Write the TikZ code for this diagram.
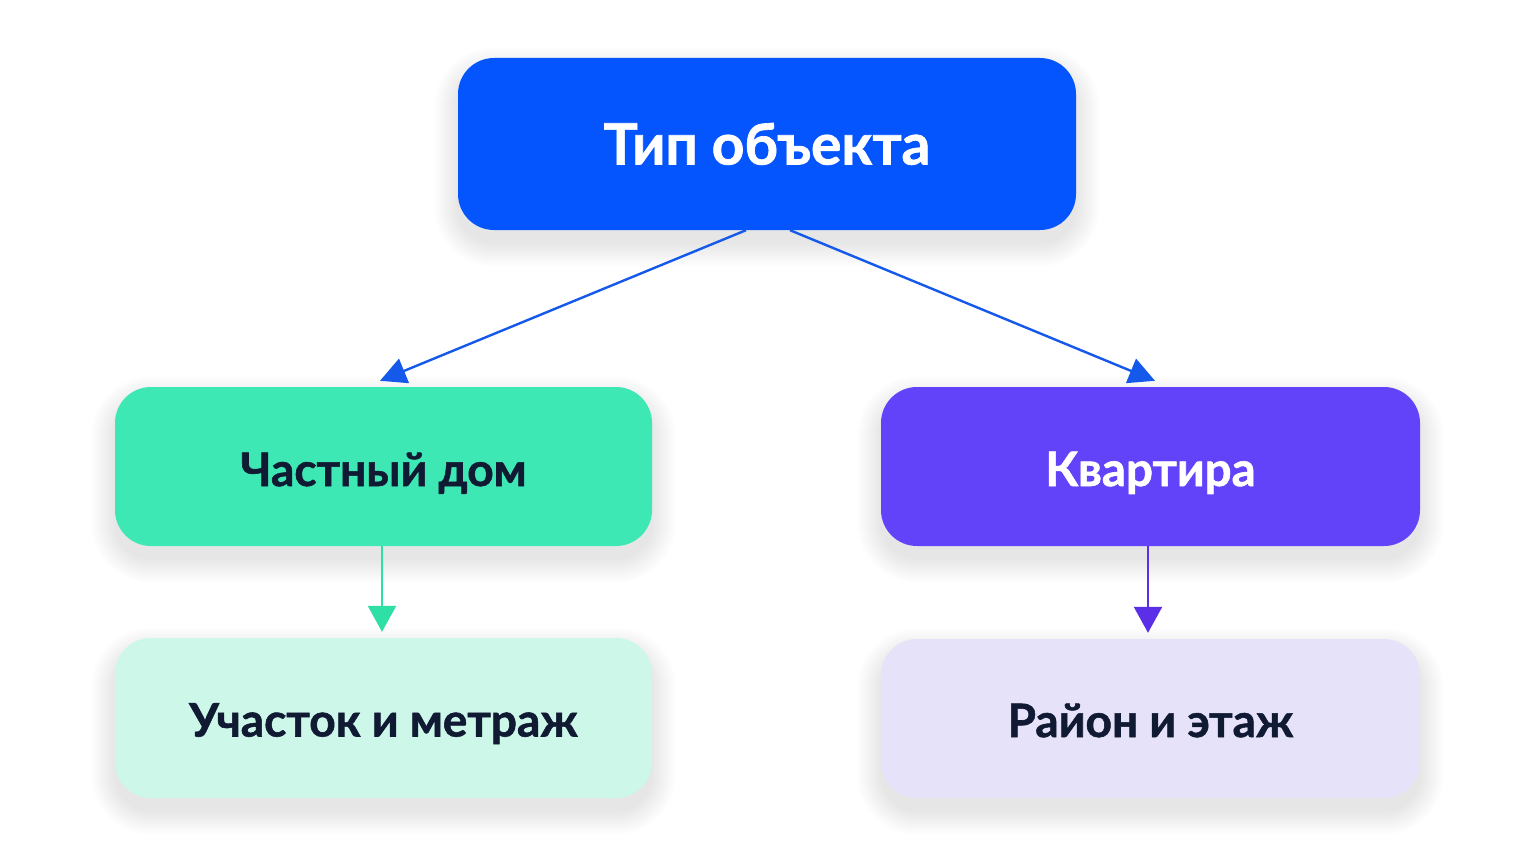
\documentclass[tikz,border=0pt]{standalone}
\usepackage{fontspec}
\setmainfont{Lato}[BoldFeatures={FakeBold=1.2}]
\usetikzlibrary{arrows.meta,backgrounds}
\definecolor{topblue}{HTML}{0555FF}
\definecolor{arrblue}{HTML}{1559EA}
\definecolor{midgreen}{HTML}{3EE8B5}
\definecolor{midpurple}{HTML}{6243FA}
\definecolor{lightmint}{HTML}{CCF7E9}
\definecolor{lightlav}{HTML}{E6E2FA}
\definecolor{arrgreen}{HTML}{2EE0A5}
\definecolor{arrpurple}{HTML}{5B2EE8}
\definecolor{darktext}{HTML}{111A33}
\definecolor{shadowcol}{HTML}{1A2040}
\tikzset{
  box/.style={rounded corners=36pt, inner sep=0pt, text depth=0pt},
  bigtext/.style={font=\bfseries\fontsize{57}{66}\selectfont, text height=41pt},
  midtext/.style={font=\bfseries\fontsize{46}{54}\selectfont, text height=33pt},
  conn/.style={line width=2.4pt, -{Triangle[length=26pt,width=26pt]}},
  shadowlayer/.style={fill=shadowcol, fill opacity=0.0048}
}
\begin{document}
\begin{tikzpicture}[x=1pt,y=-1pt]
\useasboundingbox (0,0) rectangle (1536,864);
\node[box, bigtext, fill=topblue, text=white, minimum width=618pt, minimum height=172pt] (top) at (767,144) {Тип объекта};
\node[box, midtext, fill=midgreen, text=darktext, minimum width=537pt, minimum height=159pt] (lm) at (383.5,466.5) {\raisebox{-3pt}{Частный дом}};
\node[box, midtext, fill=midpurple, text=white, minimum width=539pt, minimum height=159pt] (rm) at (1150.5,466.5) {\raisebox{-3pt}{\fontsize{47.5}{54}\selectfont Квартира}};
\node[box, midtext, fill=lightmint, text=darktext, minimum width=537pt, minimum height=160pt] (lb) at (383.5,718) {\raisebox{-2pt}{Участок и метраж}};
\node[box, midtext, fill=lightlav, text=darktext, minimum width=539pt, minimum height=159pt] (rb) at (1150.5,718.5) {\raisebox{-2pt}{Район и этаж}};
\begin{pgfonlayer}{background}
\fill[white] (0,0) rectangle (1536,864);
\foreach \n in {top,lm,rm,lb,rb}{
  \foreach \e in {0,...,24}{
    \fill[shadowlayer, rounded corners=36pt+\e pt]
      ([shift={(-\e,-\e+13)}]\n.north west) rectangle ([shift={(\e,\e+13)}]\n.south east);
  }
}
\end{pgfonlayer}
\draw[conn, arrblue] ([xshift=-21pt]top.south) -- ([xshift=-3.5pt,yshift=6pt]lm.north);
\draw[conn, arrblue] ([xshift=23pt]top.south) -- ([xshift=4.5pt,yshift=6pt]rm.north);
\draw[conn, arrgreen, -{Triangle[length=26pt,width=28pt]}] ([xshift=-1.5pt]lm.south) -- ([xshift=-1.5pt,yshift=6pt]lb.north);
\draw[conn, arrpurple, -{Triangle[length=26pt,width=28pt]}] ([xshift=-2.5pt]rm.south) -- ([xshift=-2.5pt,yshift=6pt]rb.north);
\end{tikzpicture}
\end{document}
